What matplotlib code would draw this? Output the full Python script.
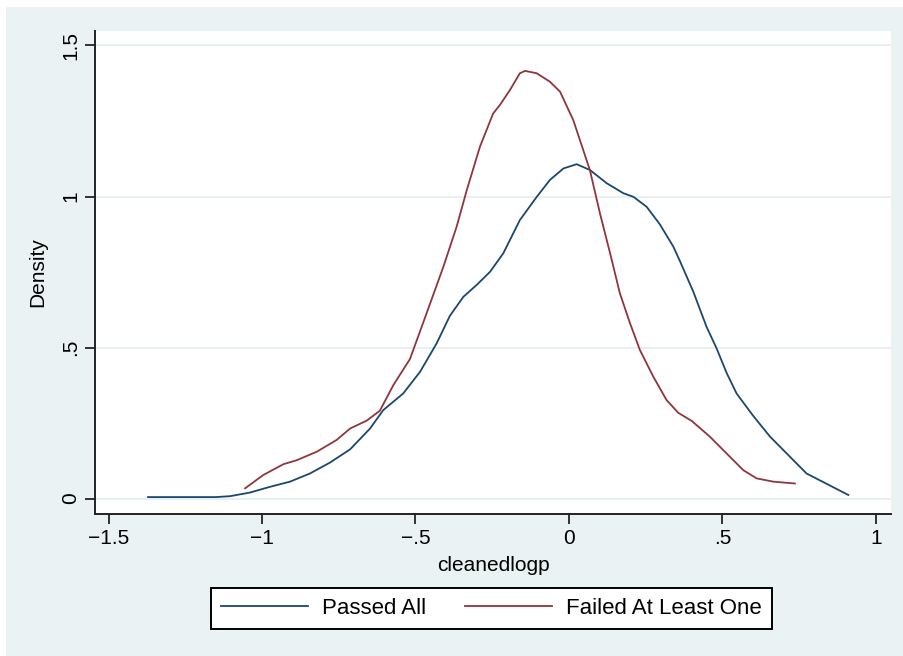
import matplotlib
matplotlib.use("Agg")
import matplotlib.pyplot as plt
from matplotlib.patches import Rectangle

plt.rcParams["font.family"] = ["Liberation Sans", "DejaVu Sans"]

# kernel density
passed_x = [-1.371, -1.15, -1.104, -1.039, -0.974, -0.909, -0.844, -0.779, -0.713,
            -0.648, -0.605, -0.540, -0.485, -0.431, -0.388, -0.344, -0.300, -0.257,
            -0.214, -0.160, -0.105, -0.062, -0.018, 0.025, 0.068, 0.123, 0.177,
            0.210, 0.253, 0.296, 0.340, 0.362, 0.405, 0.448, 0.481, 0.514, 0.546,
            0.600, 0.655, 0.774, 0.910]
passed_y = [0.005, 0.005, 0.008, 0.020, 0.039, 0.056, 0.083, 0.119, 0.163,
            0.232, 0.293, 0.348, 0.420, 0.514, 0.605, 0.668, 0.708, 0.751,
            0.812, 0.922, 0.999, 1.055, 1.093, 1.107, 1.088, 1.044, 1.011,
            0.999, 0.966, 0.908, 0.834, 0.785, 0.685, 0.569, 0.497, 0.415, 0.348,
            0.274, 0.205, 0.083, 0.012]

failed_x = [-1.055, -0.996, -0.930, -0.887, -0.822, -0.757, -0.713, -0.659, -0.616,
            -0.572, -0.518, -0.464, -0.409, -0.366, -0.333, -0.290, -0.247, -0.225,
            -0.192, -0.160, -0.143, -0.105, -0.062, -0.029, 0.014, 0.068, 0.101,
            0.134, 0.166, 0.199, 0.231, 0.275, 0.318, 0.356, 0.400, 0.459, 0.568,
            0.611, 0.666, 0.736]
failed_y = [0.034, 0.078, 0.114, 0.127, 0.155, 0.194, 0.232, 0.258, 0.291,
            0.376, 0.462, 0.613, 0.768, 0.900, 1.021, 1.165, 1.275, 1.303,
            1.353, 1.408, 1.416, 1.408, 1.380, 1.347, 1.253, 1.088, 0.944,
            0.812, 0.679, 0.580, 0.492, 0.403, 0.326, 0.284, 0.257, 0.205, 0.094,
            0.067, 0.056, 0.050]

x_ticks = [-1.5, -1, -0.5, 0, 0.5, 1]
x_tick_labels = ["\u22121.5", "\u22121", "\u2212.5", "0", ".5", "1"]
y_ticks = [0, 0.5, 1, 1.5]
y_tick_labels = ["0", ".5", "1", "1.5"]

W, H = 904, 656
fig = plt.figure(figsize=(W / 100, H / 100), dpi=100, facecolor="white")

# stata graph region, behind the axes
fig.patches.append(Rectangle((6 / W, 0), 898 / W, 649 / H, transform=fig.transFigure,
                             facecolor="#eaf2f3", edgecolor="none", zorder=-10))

ax = fig.add_axes([95 / W, (H - 514) / H, (891 - 95) / W, (514 - 31) / H])
ax.set_facecolor("white")

ax.plot(passed_x, passed_y, color="#1a476f", lw=1.3, label="Passed All")
ax.plot(failed_x, failed_y, color="#90353b", lw=1.3, label="Failed At Least One")

ax.set_xlim(-1.544, 1.049)
ax.set_ylim(-0.051, 1.548)

ax.set_xticks(x_ticks)
ax.set_xticklabels(x_tick_labels)
ax.set_yticks(y_ticks)
ax.set_yticklabels(y_tick_labels, rotation=90, va="center")

for side in ["top", "right"]:
    ax.spines[side].set_visible(False)
for side in ["left", "bottom"]:
    ax.spines[side].set_linewidth(1.4)
    ax.spines[side].set_color("#222222")

ax.tick_params(axis="both", direction="out", length=7.5, width=1.3, color="#222222",
               labelsize=15, pad=3)
ax.grid(axis="y", color="#e4eef0", lw=1.2)
ax.set_axisbelow(True)

ax.set_xlabel("cleanedlogp", fontsize=15, labelpad=6)
ax.set_ylabel("Density", fontsize=15, labelpad=10)

leg = fig.legend(loc="center", bbox_to_anchor=(491.5 / W, 48 / H), ncol=2,
                 fontsize=16, frameon=True, fancybox=False, handlelength=3.9,
                 handletextpad=0.63, columnspacing=1.75, borderpad=0.45,
                 borderaxespad=0)
leg.get_frame().set_edgecolor("black")
leg.get_frame().set_linewidth(1.4)
leg.get_frame().set_alpha(1)
for line in leg.get_lines():
    line.set_linewidth(1.3)

fig.savefig("out.png", dpi=100, facecolor="white")
